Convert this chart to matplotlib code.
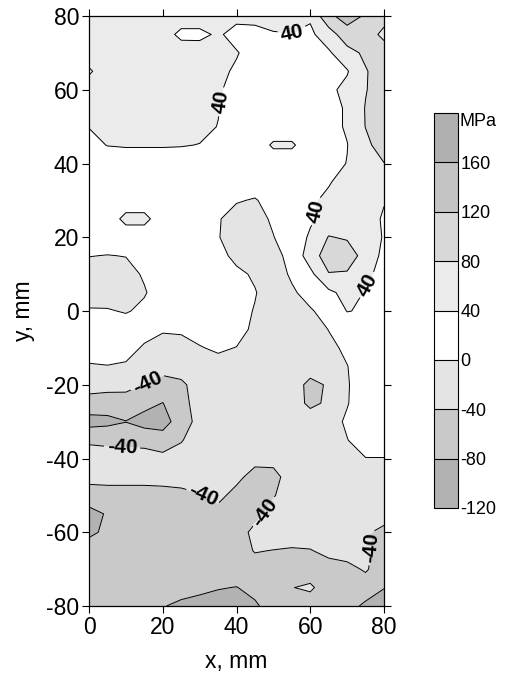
import numpy as np
import matplotlib.pyplot as plt
from matplotlib.colors import ListedColormap

plt.rcParams['font.family'] = ['Liberation Sans', 'DejaVu Sans']
plt.rcParams['axes.unicode_minus'] = False
plt.rcParams['contour.negative_linestyle'] = 'solid'

# measurement grid, mm
x_mm = [0, 5, 10, 15, 20, 25, 30, 35, 40, 45, 50, 55, 60, 65, 70, 75, 80]
y_mm = [80, 75, 70, 65, 60, 55, 50, 45, 40, 35, 30, 25, 20, 15, 10, 5, 0,
        -5, -10, -15, -20, -25, -30, -35, -40, -45, -50, -55, -60, -65, -70, -75, -80]

# residual stress, MPa (one row per y, left to right in x)
stress = [
    [60, 62, 62, 62, 62, 62, 62, 58, 52, 50, 55, 55, 45, 112, 135, 116, 95],
    [60, 65, 65, 65, 58, 30, 30, 46, 25, 30, 37, 39, 33, 60, 105, 100, 70],
    [60, 65, 65, 65, 65, 62, 60, 55, 43, 22, 20, 20, 22, 35, 65, 88, 100],
    [35, 60, 62, 62, 62, 60, 58, 50, 34, 20, 20, 20, 20, 25, 37, 77, 100],
    [60, 60, 60, 60, 60, 58, 55, 45, 25, 20, 20, 20, 22, 32, 50, 78, 100],
    [55, 58, 58, 58, 58, 56, 52, 42, 22, 20, 20, 20, 20, 28, 44, 82, 100],
    [41, 52, 56, 56, 56, 55, 50, 39, 20, 20, 20, 20, 20, 28, 44, 81, 100],
    [30, 41, 43, 43, 43, 42, 39, 25, 20, 20, 45, 45, 20, 25, 39, 70, 100],
    [22, 20, 20, 20, 20, 20, 20, 20, 20, 20, 20, 20, 22, 28, 41, 62, 79],
    [20, 20, 20, 20, 20, 20, 20, 20, 20, 20, 20, 20, 25, 37, 55, 60, 65],
    [20, 20, 20, 20, 20, 20, 20, 15, 3, -3, 15, 20, 34, 48, 60, 58, 42],
    [20, 20, 50, 50, 20, 20, 20, 3, -15, -12, 5, 20, 35, 55, 60, 55, 36],
    [20, 20, 20, 20, 20, 20, 20, 2, -18, -15, -1, 18, 45, 82, 76, 62, 37],
    [1, -1, 1, 15, 20, 20, 20, 12, -10, -15, -10, 10, 60, 100, 100, 65, 30],
    [-15, -18, -12, 4, 20, 20, 20, 15, 8, -5, -20, 6, 30, 78, 76, 50, 25],
    [-15, -18, -15, -3, 18, 20, 20, 20, 15, 2, -18, -6, 15, 32, 52, 38, 22],
    [3, 3, -3, 8, 20, 20, 20, 18, 12, -2, -20, -20, -4, 15, 41, 37, 22],
    [20, 20, 20, 12, 3, 4, 12, 15, 14, -8, -20, -20, -20, 1, 20, 25, 22],
    [20, 15, 12, -4, -12, -10, -2, 5, -1, -15, -20, -20, -20, -10, 8, 20, 22],
    [-4, -1, -4, -20, -28, -25, -20, -12, -18, -20, -20, -20, -22, -15, -1, 20, 22],
    [-25, -26, -28, -41, -52, -46, -26, -20, -20, -20, -20, -22, -50, -36, -3, 20, 22],
    [-55, -60, -58, -68, -81, -52, -25, -20, -20, -20, -20, -22, -48, -34, -2, 20, 22],
    [-95, -90, -81, -95, -98, -58, -28, -20, -20, -20, -20, -20, -20, -14, 5, 20, 22],
    [-45, -48, -48, -52, -60, -42, -25, -20, -20, -20, -20, -20, -20, -15, -1, 16, 18],
    [-25, -25, -28, -25, -30, -28, -20, -20, -20, -30, -30, -20, -20, -20, -15, -1, -1],
    [-30, -30, -30, -30, -30, -28, -25, -26, -32, -52, -50, -25, -20, -20, -20, -20, -18],
    [-55, -52, -52, -52, -50, -48, -42, -32, -50, -58, -42, -25, -20, -20, -20, -22, -22],
    [-95, -76, -60, -60, -60, -60, -58, -50, -55, -48, -30, -20, -20, -20, -20, -25, -30],
    [-88, -72, -60, -60, -60, -60, -60, -58, -52, -33, -20, -20, -20, -20, -22, -37, -46],
    [-60, -60, -60, -60, -60, -60, -60, -60, -55, -38, -41, -44, -42, -30, -25, -35, -55],
    [-60, -60, -60, -60, -60, -60, -60, -60, -60, -55, -58, -60, -60, -55, -50, -36, -60],
    [-60, -60, -60, -60, -62, -65, -72, -78, -81, -70, -60, -41, -34, -60, -62, -58, -79],
    [-60, -60, -60, -62, -78, -88, -92, -95, -95, -85, -65, -60, -60, -62, -65, -88, -95],
]

levels = [-120, -80, -40, 0, 40, 80, 120, 160, 200]
labelled_levels = [-40, 40]
band_colors = ['#b2b2b2', '#c9c9c9', '#e4e4e4', '#ffffff',
               '#ebebeb', '#d8d8d8', '#c4c4c4', '#b0b0b0']
bar_labels = ['-120', '-80', '-40', '0', '40', '80', '120', '160', '']

# where the -40 / 40 contour labels sit
label_spots = [(55.4, 74.8), (37.3, 56.5), (61.6, 27.0), (75.5, 7.0),
               (16.0, -19.8), (9.0, -36.3), (31.0, -50.0), (47.5, -54.5), (75.5, -64.0)]

X, Y = np.meshgrid(x_mm, y_mm)
Z = np.array(stress, dtype=float)

fig = plt.figure(figsize=(5.16, 6.90), dpi=100)
ax = fig.add_axes([0.1725, 0.1217, 0.5717, 0.8551])
ax.set_xlim(0, 80)
ax.set_ylim(-80, 80)

cmap = ListedColormap(band_colors)
filled = ax.contourf(X, Y, Z, levels=levels, cmap=cmap)
plain = [lv for lv in levels if lv not in labelled_levels]
ax.contour(X, Y, Z, levels=plain, colors='k', linewidths=0.7, linestyles='solid')
lab = ax.contour(X, Y, Z, levels=labelled_levels, colors='k', linewidths=0.7,
                 linestyles='solid')
texts = ax.clabel(lab, manual=label_spots, fmt='%d',
                  fontsize=15, inline=True, inline_spacing=3)
for t in texts:
    t.set_fontweight('bold')

ax.set_xlim(0, 80)
ax.set_ylim(-80, 80)
ax.set_xticks([0, 20, 40, 60, 80])
ax.set_yticks([-80, -60, -40, -20, 0, 20, 40, 60, 80])
ax.tick_params(direction='out', length=5, width=0.8, top=True, right=True,
               labelsize=16.5, pad=2)
for s in ax.spines.values():
    s.set_linewidth(0.9)
ax.set_xlabel('x, mm', fontsize=16.5, labelpad=8)
ax.set_ylabel('y, mm', fontsize=16.5, labelpad=8)

cax = fig.add_axes([0.841, 0.264, 0.0465, 0.572])
cb = fig.colorbar(filled, cax=cax, ticks=levels, drawedges=True)
cb.set_ticklabels(bar_labels)
cb.ax.tick_params(length=0, labelsize=13, pad=2)
cb.outline.set_linewidth(0.8)
cb.dividers.set_linewidth(0.8)
cax.text(1.08, 1.0, 'MPa', transform=cax.transAxes, fontsize=13, va='top', ha='left')

fig.savefig('out.png', dpi=100)
